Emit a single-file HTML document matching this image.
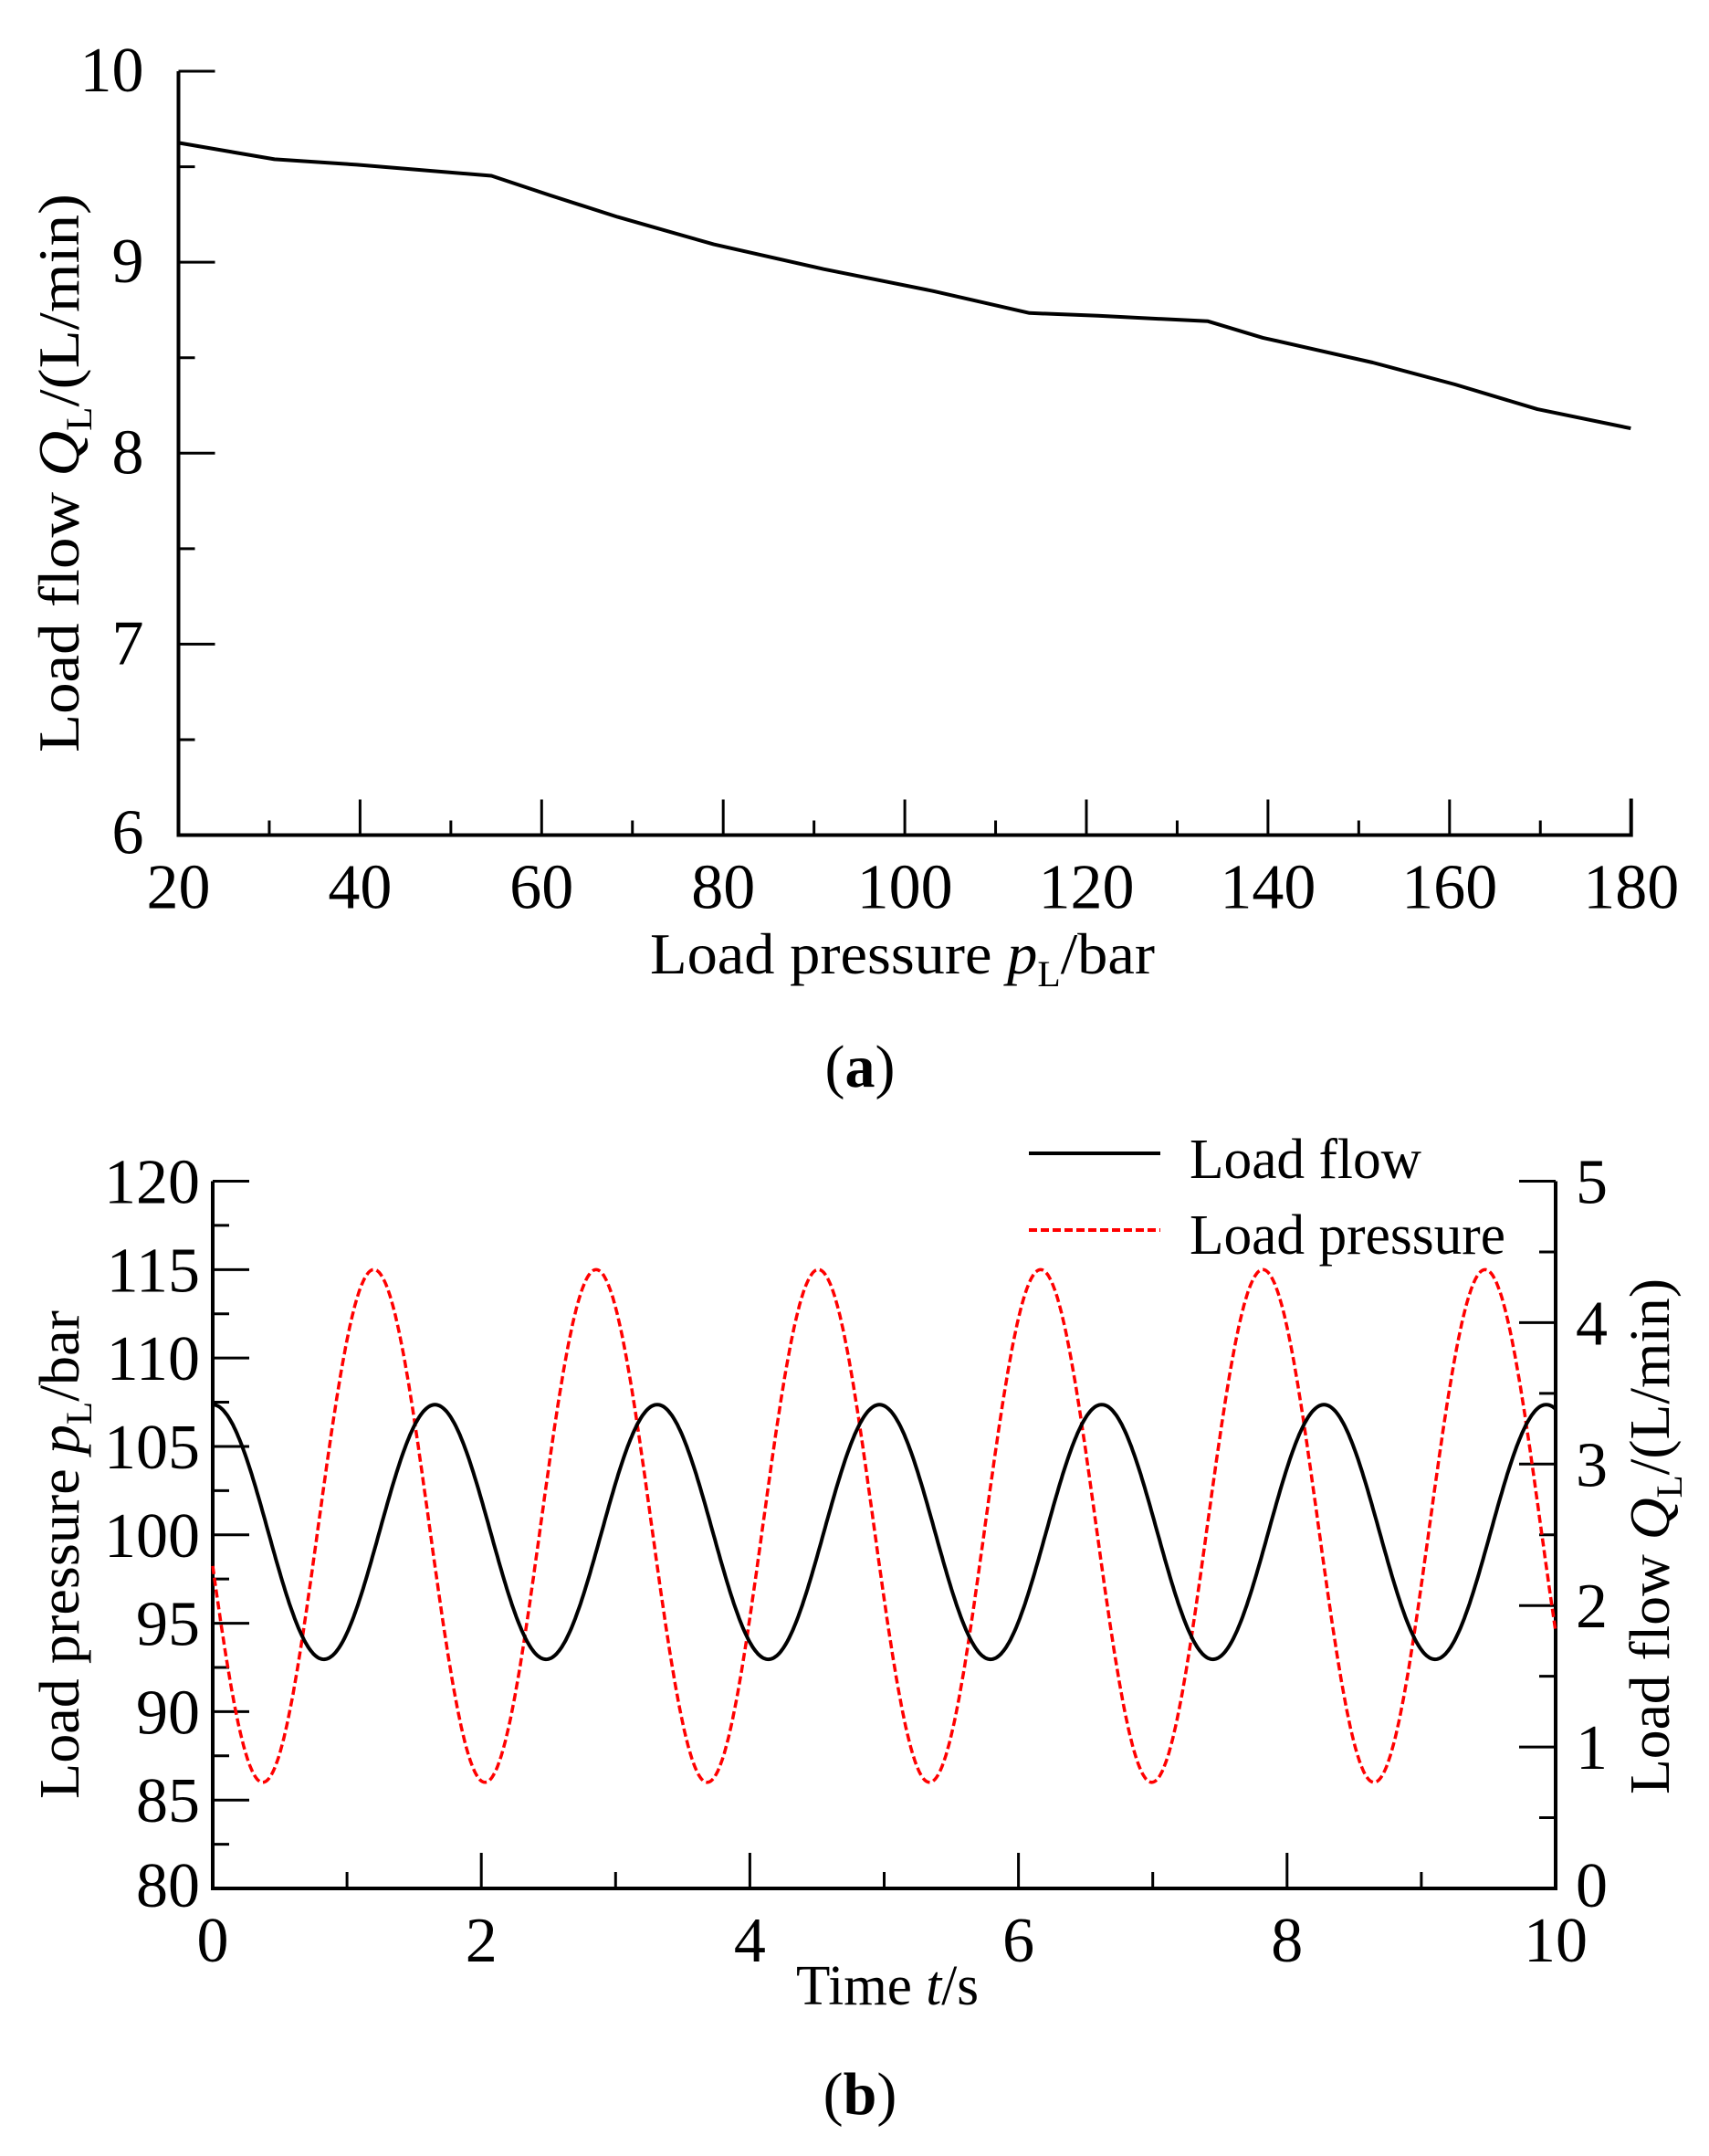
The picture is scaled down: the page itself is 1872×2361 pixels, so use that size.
<!DOCTYPE html>
<html><head><meta charset="utf-8"><style>
html,body{margin:0;padding:0;background:#fff}
svg{display:block}
text{font-family:"Liberation Serif",serif;fill:#000}
</style></head><body>
<svg id="s" width="1872" height="2361" viewBox="0 0 1872 2361" xmlns="http://www.w3.org/2000/svg">
<g id="a"></g>
<g id="b"></g>
<!-- Plot a titles -->
<text transform="translate(86,824) rotate(-90)" font-size="64" textLength="612" lengthAdjust="spacingAndGlyphs">Load flow <tspan font-style="italic">Q</tspan><tspan font-size="40" dy="14">L</tspan><tspan dy="-14">/(L/min)</tspan></text>
<text x="712" y="1066" font-size="64" textLength="553" lengthAdjust="spacingAndGlyphs">Load pressure <tspan font-style="italic">p</tspan><tspan font-size="40" dy="14">L</tspan><tspan dy="-14">/bar</tspan></text>
<text x="942" y="1190" font-size="66" text-anchor="middle">(<tspan font-weight="bold">a</tspan>)</text>
<!-- Plot b titles -->
<text transform="translate(86,1970) rotate(-90)" font-size="62" textLength="535" lengthAdjust="spacingAndGlyphs">Load pressure <tspan font-style="italic">p</tspan><tspan font-size="40" dy="14">L</tspan><tspan dy="-14">/bar</tspan></text>
<text transform="translate(1828,1965) rotate(-90)" font-size="62" textLength="565" lengthAdjust="spacingAndGlyphs">Load flow <tspan font-style="italic">Q</tspan><tspan font-size="40" dy="14">L</tspan><tspan dy="-14">/(L/min)</tspan></text>
<text x="872" y="2195" font-size="62" textLength="200" lengthAdjust="spacingAndGlyphs">Time <tspan font-style="italic">t</tspan>/s</text>
<text x="942" y="2315" font-size="66" text-anchor="middle">(<tspan font-weight="bold">b</tspan>)</text>
<!-- legend -->
<line x1="1127" y1="1263" x2="1271" y2="1263" stroke="#000" stroke-width="4"/>
<text x="1303" y="1290" font-size="62" textLength="254" lengthAdjust="spacingAndGlyphs">Load flow</text>
<line x1="1127" y1="1347" x2="1271" y2="1347" stroke="#f00" stroke-width="4" stroke-dasharray="9,4"/>
<text x="1303" y="1373" font-size="62" textLength="346" lengthAdjust="spacingAndGlyphs">Load pressure</text>
</svg>
<script>
var NS="http://www.w3.org/2000/svg";
function el(p,t,a,txt){var e=document.createElementNS(NS,t);for(var k in a)e.setAttribute(k,a[k]);if(txt!=null)e.textContent=txt;p.appendChild(e);return e;}
// Plot a
var A=document.getElementById('a');
var L=195.5,R=1786.7,T=78,B=914.5;
el(A,'path',{d:'M'+L+','+T+'V'+B+'H'+R+'V'+(B-40),fill:'none',stroke:'#000','stroke-width':4});
for(var i=0;i<=16;i++){var x=L+(R-L)*i/16;var len=(i%2==0)?39:16;el(A,'line',{x1:x,y1:B,x2:x,y2:B-len,stroke:'#000','stroke-width':3});
 if(i%2==0){el(A,'text',{x:x,y:B+80,'font-size':70,'text-anchor':'middle'},String(20+i*10));}}
for(var j=0;j<=8;j++){var y=B-(B-T)*j/8;var len=(j%2==0)?40:18;el(A,'line',{x1:L,y1:y,x2:L+len,y2:y,stroke:'#000','stroke-width':3});
 if(j%2==0&&j>0){el(A,'text',{x:L-38,y:y+22,'font-size':70,'text-anchor':'end'},String(6+j/2));}}
el(A,'text',{x:L-38,y:B+20,'font-size':70,'text-anchor':'end'},'6');
var pa=[[130,104],[200,116],[260,120],[358,128],[400,142],[450,158],[520,178],[600,196],[680,212],[750,228],[800,230],[880,234],[920,246],[1000,264],[1060,280],[1120,298],[1188,312]];
el(A,'polyline',{points:pa.map(function(p){return (p[0]*1.5036).toFixed(1)+','+(p[1]*1.5036).toFixed(1)}).join(' '),fill:'none',stroke:'#000','stroke-width':4,'stroke-linejoin':'round'});
// Plot b
var Bg=document.getElementById('b');
var l=233,r=1704,t=1293.5,b=2068;
el(Bg,'path',{d:'M'+l+','+t+'V'+b+'H'+r+'V'+t,fill:'none',stroke:'#000','stroke-width':4});
for(var i=0;i<=10;i++){var x=l+(r-l)*i/10;var len=(i%2==0)?39:18;el(Bg,'line',{x1:x,y1:b,x2:x,y2:b-len,stroke:'#000','stroke-width':3});
 if(i%2==0){el(Bg,'text',{x:x,y:b+80,'font-size':70,'text-anchor':'middle'},String(i));}}
for(var j=0;j<=16;j++){var y=b-(b-t)*j/16;var len=(j%2==0)?40:18;el(Bg,'line',{x1:l,y1:y,x2:l+len,y2:y,stroke:'#000','stroke-width':3});
 if(j%2==0){el(Bg,'text',{x:l-14,y:y+24+(j==0?-4:0),'font-size':70,'text-anchor':'end'},String(80+j*2.5));}}
for(var j=0;j<=10;j++){var y=b-(b-t)*j/10;var len=(j%2==0)?40:18;el(Bg,'line',{x1:r,y1:y,x2:r-len,y2:y,stroke:'#000','stroke-width':3});
 if(j%2==0){el(Bg,'text',{x:r+22,y:y+24+(j==0?-4:0),'font-size':70},String(j/2));}}
function X(tt){return l+(r-l)*tt/10}
var pq=[],pp=[];
for(var k=0;k<=1000;k++){var tt=k/100;
 var q=2.52+0.9*Math.cos(2*Math.PI*tt/1.655); pq.push(X(tt).toFixed(1)+','+(b-q*(b-t)/5).toFixed(1));
 var P=100.5+14.5*Math.cos(2*Math.PI*(tt-1.2)/1.655); pp.push(X(tt).toFixed(1)+','+(b-(P-80)*(b-t)/40).toFixed(1));}
el(Bg,'polyline',{points:pp.join(' '),fill:'none',stroke:'#f00','stroke-width':3.5,'stroke-dasharray':'9,4'});
el(Bg,'polyline',{points:pq.join(' '),fill:'none',stroke:'#000','stroke-width':4});
</script>
</body></html>
